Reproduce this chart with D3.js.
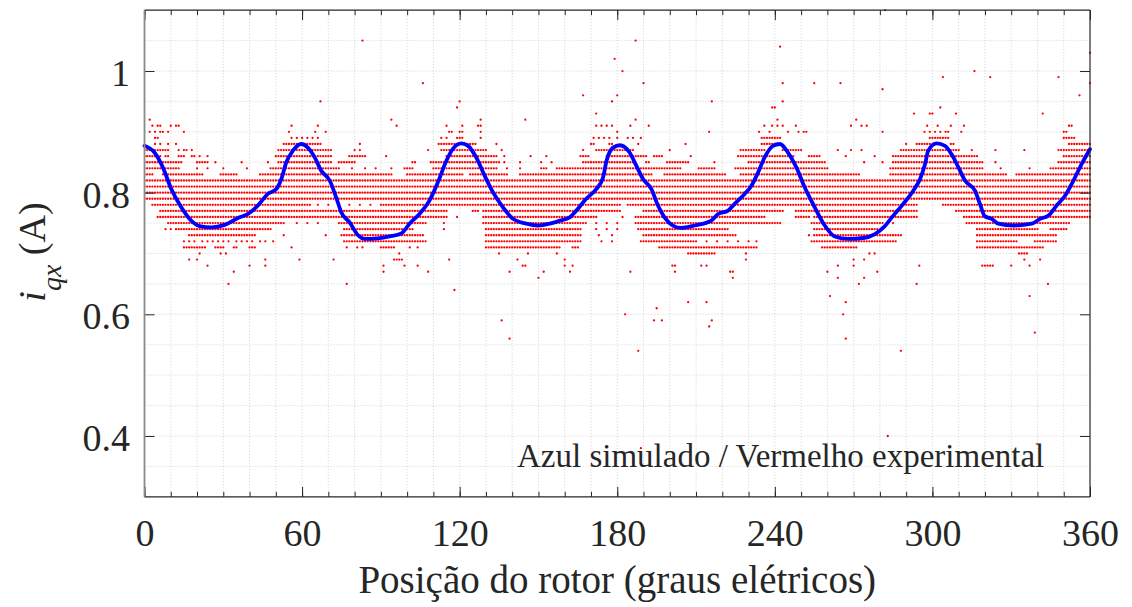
<!DOCTYPE html>
<html>
<head>
<meta charset="utf-8">
<script src="https://cdn.jsdelivr.net/npm/d3@7"></script>
<style>
  html, body { margin: 0; padding: 0; background: #fff; }
  svg { display: block; }
  text { font-family: "Liberation Serif", "Times New Roman", serif; fill: #262626; }
</style>
</head>
<body>
<svg id="chart" width="1132" height="607"></svg>
<script>
// ---------------- data ----------------
const xTicks = [0, 60, 120, 180, 240, 300, 360];
const xMinorTicks = d3.range(0, 361, 10);
const yTicks = [0.4, 0.6, 0.8, 1.0];
const yTickLabels = ["0.4", "0.6", "0.8", "1"];

// simulated i_qx (blue) : rotor position (deg) and current (A)
const simDeg = [0, 3.8, 7, 10.2, 14, 17.8, 21, 25.4, 30.5, 35.6, 39.4, 43.2, 47, 50.2, 52.1, 54, 56.5, 59.7, 62.2, 64.8, 67.3, 70.5, 73, 74.9, 78.1, 81.3, 83.8, 88.9,
  93.3, 97.8, 100.9, 104.7, 108.5, 111.7, 114.9, 117.4, 120.6, 123.2, 126.3, 129.5, 132.7, 136.5, 140.3, 145.4, 149.8, 154.3, 158.1, 161.9, 164.4, 168.2, 172, 174.6, 175.9, 178.4, 181,
  184.7, 187.3, 189.8, 193, 195.5, 198, 201.2, 204.4, 209.5, 215.8, 218.4, 222.2, 224.7, 228.5, 231.1, 233.6, 236.1, 239.3, 241.9, 245, 248.2, 251.4, 255.2, 259, 262.8, 267.9,
  273.7, 278.1, 281.3, 285.1, 288.9, 292.7, 295.3, 297.2, 298.4, 301.6, 304.8, 307.3, 309.9, 312.4, 316.2, 318.1, 320, 322.6, 325.1, 330.8, 337.8, 341, 344.2, 347.3, 350.5, 353.7, 356.8, 360];
const simVal = [0.877, 0.866, 0.8415, 0.806, 0.776, 0.754, 0.745, 0.743, 0.747, 0.7585, 0.765, 0.779, 0.798, 0.806, 0.8225, 0.85, 0.869, 0.880, 0.874, 0.858, 0.836, 0.820, 0.792, 0.768, 0.751, 0.730, 0.724, 0.725,
  0.728, 0.733, 0.749, 0.765, 0.787, 0.817, 0.852, 0.872, 0.881, 0.877, 0.858, 0.828, 0.8005, 0.776, 0.757, 0.749, 0.746, 0.749, 0.754, 0.7595, 0.7705, 0.79, 0.806, 0.825, 0.852, 0.874, 0.878,
  0.866, 0.844, 0.8225, 0.806, 0.779, 0.7595, 0.746, 0.742, 0.746, 0.754, 0.765, 0.7705, 0.7815, 0.798, 0.8115, 0.833, 0.858, 0.877, 0.880, 0.866, 0.8415, 0.8085, 0.776, 0.746, 0.728, 0.724,
  0.7255, 0.732, 0.7425, 0.7623, 0.7815, 0.8033, 0.8225, 0.847, 0.869, 0.881, 0.877, 0.863, 0.8415, 0.820, 0.8033, 0.7815, 0.761, 0.757, 0.749, 0.746, 0.749, 0.757, 0.7623, 0.779, 0.795, 0.820, 0.847, 0.8716];

// experimental i_qx (red) : quantised current levels (A) and the rotor positions (deg)
// where samples appear at that level ("a-b" = a run of samples every degree, "a" = single sample)
const expLevels = [1.10, 1.05, 1.04, 1.03, 1.02, 1.00, 0.99, 0.98, 0.97, 0.96, 0.95, 0.94, 0.93, 0.92, 0.91, 0.90, 0.89, 0.88, 0.87, 0.86, 0.85, 0.84, 0.83,
  0.82, 0.81, 0.80, 0.79, 0.78, 0.77, 0.76, 0.75, 0.74, 0.73, 0.72, 0.71, 0.70, 0.69, 0.68, 0.67, 0.66, 0.65, 0.64, 0.63, 0.62, 0.61, 0.60, 0.59, 0.58, 0.57, 0.56, 0.54, 0.40, 0.38];
const expRuns = [
  "282",
  "83 187",
  "242",
  "360",
  "179",
  "182 316",
  "304 322 348",
  "106 190 243 255 265 360",
  "281",
  "167 180 356",
  "67 120 178 216 243",
  "119 239 240 303",
  "172 293 299 300 309 342",
  "2 94 128 145 187 241 271",
  "3 5 6 10 12 13 56 66 96 115 121 127 128 172 174 176 178 185 192 236 239 241 243 248 269 273 275 298 302 307 312 352 353",
  "2 4 6 7 9 15 55 65 69 116 117 120 121 128 180 215 234 238 245 249 251 252 281 297 299 301 303 305 306 311 350 351",
  "4 5 56 58 60 62 64 66 113 115 119-121 128 171 173 175 177 180 184 186 189 235-242 299-306 350-354",
  "4 6 9 12 53-67 82 112-126 134 170 171 177 178 188 206 235-242 290 294-299 307 308 352-360",
  "0-9 13 15 16 18 51-71 80 82 108 113-130 136 167 172-186 200 227-236 243-250 264 269 273 288-310 315 324 335 348-360",
  "0-6 8 9 13-15 18 19 21 24 50-71 78-84 92 115-134 137 147 153 166-169 176-191 194-197 208 226-247 253-257 267 278 285-317 350-360",
  "0-14 20-24 27 37 47 51-71 74-80 102 103 109-135 137 143 151 155 167-186 191 192 199-207 217 230-259 274 281 285-319 324 348-360",
  "0-13 20 24 30 39 48-74 79 84 88 94 99-102 110-134 138 143 151-153 157-204 211-217 225-260 284-319 326 337 345-360",
  "0-3 7-22 29-35 44-94 100-121 124-138 143-193 198-221 227-272 284-328 332-360",
  "0-360",
  "0-360",
  "0-360",
  "0-360",
  "3-63 66 70 74 78 82 86 90-181 184-294 304-360",
  "6-115 125-127 129-181 190-243 248-294 309-360",
  "5-115 119 129-172 182 187-236 248-253 255-294 312-360",
  "9-53 58 62 66 74-107 114 129-168 172 176 180 187-242 254-281 285 313-352",
  "8 10 12-48 76-102 114 130-166 172 176 180 188-222 255-279 317-340 345-351",
  "17-42 53 69 75-106 130-166 173 178 190-225 253 255-288 317-347",
  "15 17 19 22 24 26 28 30 32 35 37 39 41 44 46 49 76-107 130-166 174 178 189-210 214 218 222 226 230 233 254-286 317-332 339-347",
  "15-23 27-30 34 35 40-42 56 77 81 83 90-95 101 104 130-158 163-165 196-233 258-271 317-342",
  "21 29 31 97 135 146 157 207-217 229 276 278 333-336",
  "17 20 46 59 72 95-98 116 142 160 229 270 274 335 341",
  "24 40 46 91 99 104 144 145 160 163 201 202 212 214 264 270 295 319-323 330 337",
  "34 91 108 139 152 162 185 202 223 224 260 279",
  "150 224 264 274",
  "32 77 272 294 344",
  "118",
  "261 337",
  "207 214 267",
  "195",
  "183 266",
  "136 194 197 216",
  "215",
  "339",
  "139 267",
  "188 288",
  "283",
  "189"
];

const xLabel = "Posição do rotor (graus elétricos)";
const note = "Azul simulado / Vermelho experimental";

// ---------------- chart ----------------
const svg = d3.select("#chart");
const L = 144.5, R = 1090, T = 10.2, B = 496.8;
const x = d3.scaleLinear().domain([0, 360]).range([L, R]);
const y = d3.scaleLinear().domain([0.3, 1.1]).range([B, T]);

svg.append("rect").attr("width", 1132).attr("height", 607).attr("fill", "#fff");

// grid
const grid = svg.append("g").attr("stroke", "#c8c8c8").attr("stroke-width", 0.8).attr("stroke-dasharray", "1,2");
grid.selectAll("line.v").data(d3.range(10, 360, 10)).join("line")
  .attr("x1", d => x(d)).attr("x2", d => x(d)).attr("y1", T).attr("y2", B);
grid.selectAll("line.h").data(d3.range(7, 22).map(i => i * 0.05)).join("line")
  .attr("y1", d => y(d)).attr("y2", d => y(d)).attr("x1", L).attr("x2", R);

// experimental points
const pts = [];
expLevels.forEach((lv, i) => {
  expRuns[i].split(" ").forEach(tok => {
    if (tok.includes("-")) {
      const [a, b] = tok.split("-").map(Number);
      for (let d = a; d <= b; d++) pts.push([d, lv]);
    } else pts.push([+tok, lv]);
  });
});
svg.append("clipPath").attr("id", "clip").append("rect")
  .attr("x", L).attr("y", T - 1).attr("width", R - L + 1).attr("height", B - T + 1);
svg.append("g").attr("fill", "#ff0000").attr("clip-path", "url(#clip)")
  .selectAll("circle").data(pts).join("circle")
  .attr("cx", d => x(d[0])).attr("cy", d => y(d[1])).attr("r", 1.15);

// simulated curve
const sim = simDeg.map((d, i) => [d, simVal[i]]);
svg.append("path").datum(sim)
  .attr("fill", "none").attr("stroke", "#0000ff").attr("stroke-width", 3.8)
  .attr("stroke-linejoin", "round").attr("stroke-linecap", "round")
  .attr("d", d3.line().x(d => x(d[0])).y(d => y(d[1])).curve(d3.curveMonotoneX));

// axes
function styleAxis(g) {
  g.select(".domain").remove();
  g.selectAll(".tick line").attr("stroke", "#262626").attr("stroke-width", 1);
}
svg.append("g").attr("transform", `translate(0,${B})`)
  .call(d3.axisBottom(x).tickValues(xMinorTicks).tickSize(-5).tickFormat(""))
  .call(styleAxis);
svg.append("g").attr("transform", `translate(0,${T})`)
  .call(d3.axisTop(x).tickValues(xMinorTicks).tickSize(-5).tickFormat(""))
  .call(styleAxis);
const xb = svg.append("g").attr("transform", `translate(0,${B})`)
  .call(d3.axisBottom(x).tickValues(xTicks).tickSize(-10).tickFormat(d3.format("d")))
  .call(styleAxis);
xb.selectAll(".tick text").attr("y", 49).attr("dy", 0)
  .style("font-size", "38px").style("font-family", "Liberation Serif").attr("fill", "#262626");
svg.append("g").attr("transform", `translate(0,${T})`)
  .call(d3.axisTop(x).tickValues(xTicks).tickSize(-10).tickFormat(""))
  .call(styleAxis);
const yl = svg.append("g").attr("transform", `translate(${L},0)`)
  .call(d3.axisLeft(y).tickValues(yTicks).tickSize(-10).tickFormat((d, i) => yTickLabels[i]))
  .call(styleAxis);
yl.selectAll(".tick text").attr("x", -14.5).attr("dy", "0.38em")
  .style("font-size", "38px").style("font-family", "Liberation Serif").attr("fill", "#262626");
svg.append("g").attr("transform", `translate(${R},0)`)
  .call(d3.axisRight(y).tickValues(yTicks).tickSize(-10).tickFormat(""))
  .call(styleAxis);

// frame
svg.append("line").attr("x1", L).attr("x2", R).attr("y1", T).attr("y2", T).attr("stroke", "#262626").attr("stroke-width", 1.2);
svg.append("line").attr("x1", L).attr("x2", R).attr("y1", B).attr("y2", B).attr("stroke", "#262626").attr("stroke-width", 1.2);
svg.append("line").attr("x1", R).attr("x2", R).attr("y1", T).attr("y2", B).attr("stroke", "#262626").attr("stroke-width", 1.2);
svg.append("line").attr("x1", L).attr("x2", L).attr("y1", T).attr("y2", B).attr("stroke", "#8a8a8a").attr("stroke-width", 1.8);

// annotation
svg.append("text").attr("x", 517).attr("y", 467).style("font-size", "33px").text(note);

// x label
svg.append("text").attr("x", (L + R) / 2).attr("y", 593).attr("text-anchor", "middle")
  .style("font-size", "39px").text(xLabel);

// y label
const yt = svg.append("text").attr("transform", "translate(45,252) rotate(-90)")
  .attr("text-anchor", "middle").style("font-size", "38px");
yt.append("tspan").style("font-style", "italic").text("i");
yt.append("tspan").style("font-style", "italic").style("font-size", "28px").attr("dy", 16).text("qx");
yt.append("tspan").attr("dy", -16).text(" (A)");
</script>
</body>
</html>
